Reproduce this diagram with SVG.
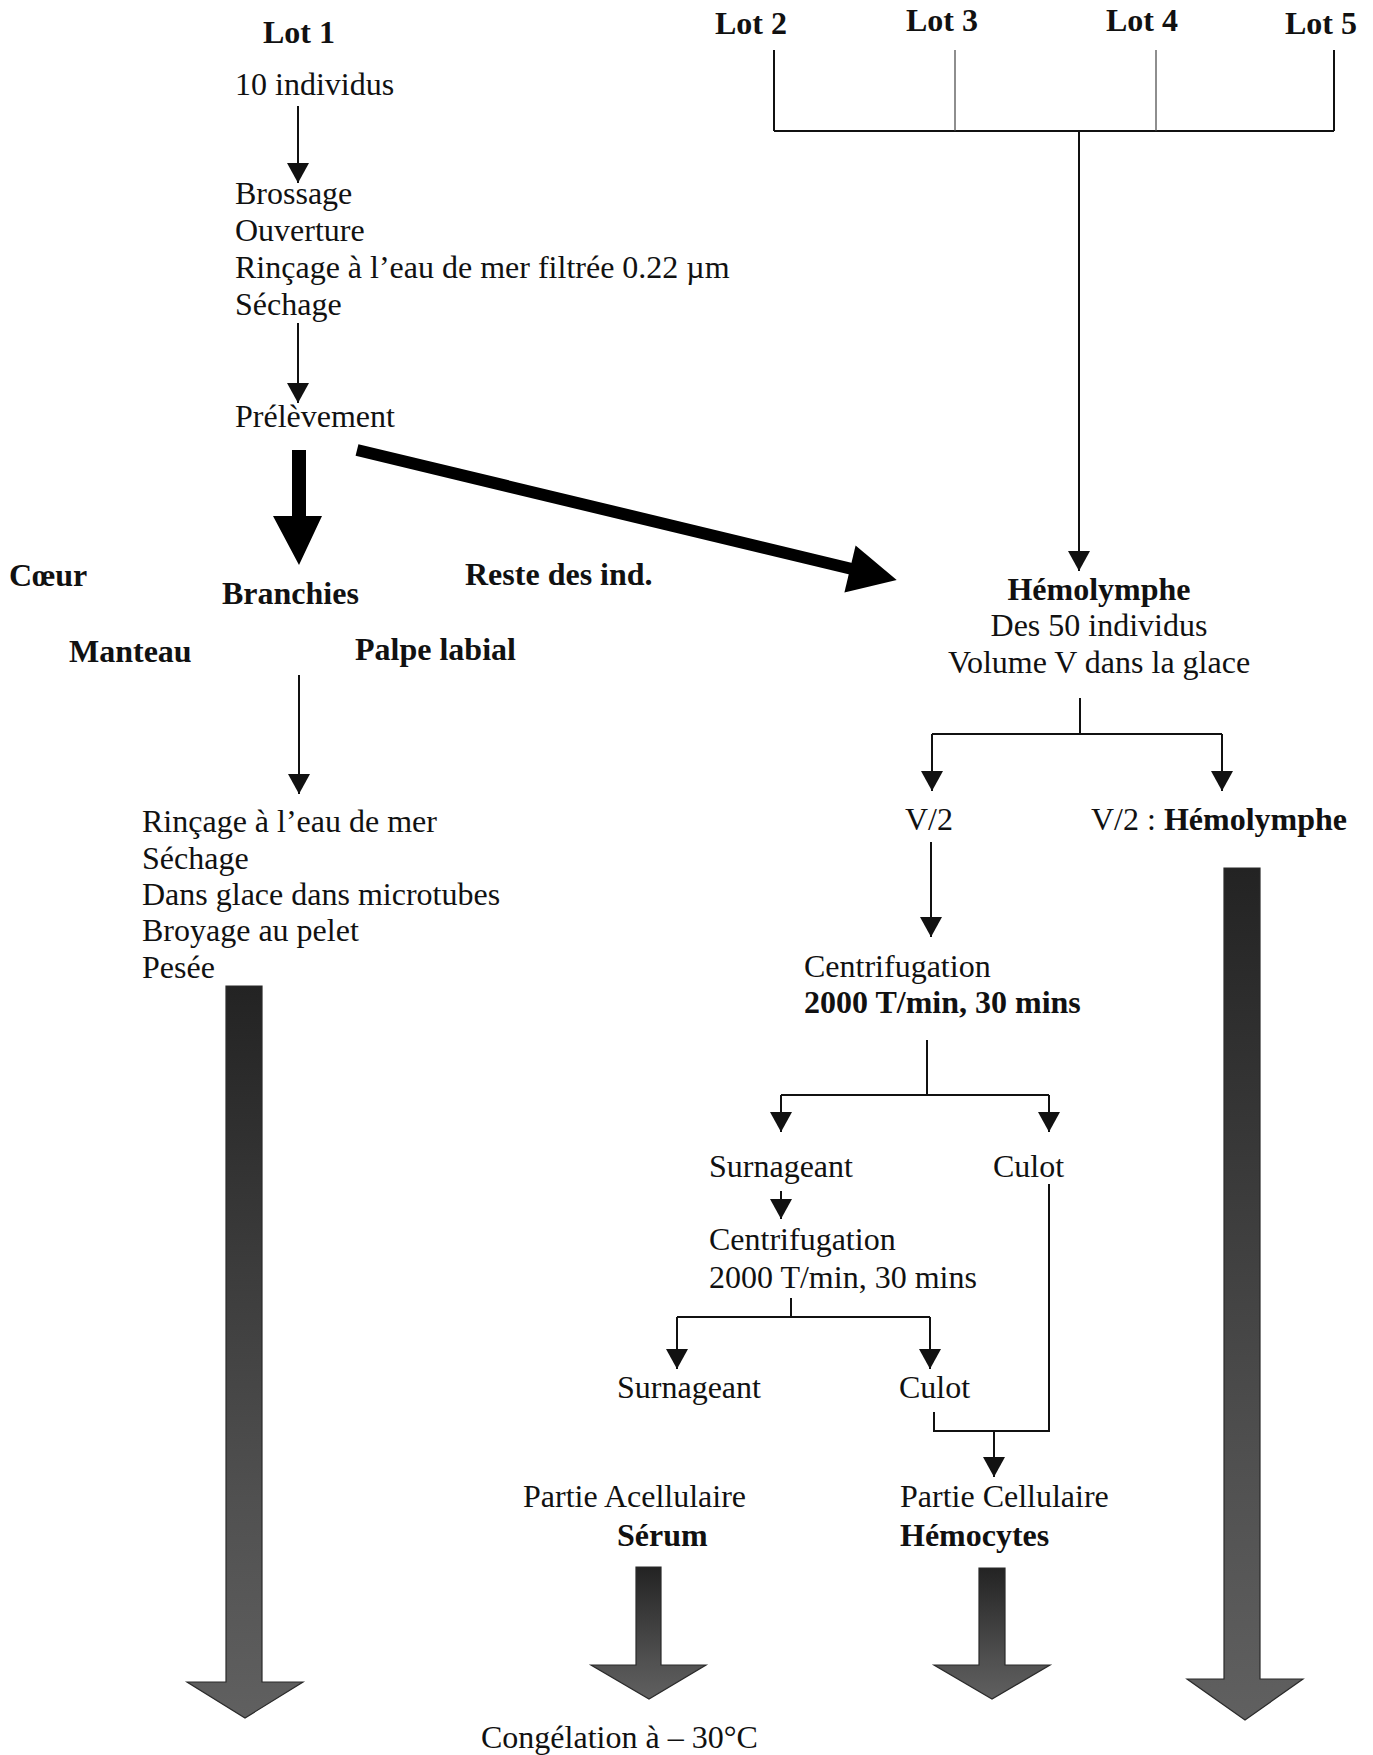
<svg xmlns="http://www.w3.org/2000/svg" width="1373" height="1755" viewBox="0 0 1373 1755">
<style>
text{font-family:"Liberation Serif","Times New Roman",serif;font-size:32px;fill:#111}
.b{font-weight:bold}
.m{text-anchor:middle}
.ln{stroke:#111;stroke-width:2;fill:none}
.thin{stroke:#444;stroke-width:1.2;fill:none}
.ar{marker-end:url(#ah)}
.gray{fill:url(#gg);stroke:#2a2a2a;stroke-width:1.2}
</style>
<defs>
<marker id="ah" markerUnits="userSpaceOnUse" markerWidth="22" markerHeight="22" refX="20" refY="11" orient="auto">
<path d="M0,0 L20,11 L0,22 Z" fill="#111"/>
</marker>
<linearGradient id="gg" x1="0" y1="0" x2="0" y2="1">
<stop offset="0" stop-color="#232323"/>
<stop offset="0.7" stop-color="#505050"/>
<stop offset="1" stop-color="#606060"/>
</linearGradient>
</defs>

<g id="lot1"><text class="b" x="263" y="43">Lot 1</text></g>
<g id="individus10"><text x="235" y="95">10 individus</text></g>
<g id="preparation">
<text x="235" y="204">Brossage</text>
<text x="235" y="241">Ouverture</text>
<text x="235" y="278">Rinçage à l’eau de mer filtrée 0.22 µm</text>
<text x="235" y="315">Séchage</text>
</g>
<g id="prelevement"><text x="235" y="427">Prélèvement</text></g>
<g id="lot2"><text class="b" x="715" y="34">Lot 2</text></g>
<g id="lot3"><text class="b" x="906" y="31">Lot 3</text></g>
<g id="lot4"><text class="b" x="1106" y="31">Lot 4</text></g>
<g id="lot5"><text class="b" x="1285" y="34">Lot 5</text></g>
<g id="coeur"><text class="b" x="9" y="586">Cœur</text></g>
<g id="branchies"><text class="b" x="222" y="604">Branchies</text></g>
<g id="reste"><text class="b" x="465" y="585">Reste des ind.</text></g>
<g id="manteau"><text class="b" x="69" y="662">Manteau</text></g>
<g id="palpe"><text class="b" x="355" y="660">Palpe labial</text></g>
<g id="hemolymphe">
<text class="b m" x="1099" y="600">Hémolymphe</text>
<text class="m" x="1099" y="636">Des 50 individus</text>
<text class="m" x="1099" y="673">Volume V dans la glace</text>
</g>
<g id="traitement">
<text x="142" y="832">Rinçage à l’eau de mer</text>
<text x="142" y="869">Séchage</text>
<text x="142" y="905">Dans glace dans microtubes</text>
<text x="142" y="941">Broyage au pelet</text>
<text x="142" y="978">Pesée</text>
</g>
<g id="v2a"><text x="905" y="830">V/2</text></g>
<g id="v2b"><text x="1091" y="830">V/2 : <tspan class="b">Hémolymphe</tspan></text></g>
<g id="centrif1">
<text x="804" y="977">Centrifugation</text>
<text class="b" x="804" y="1013">2000 T/min, 30 mins</text>
</g>
<g id="surnageant1"><text x="709" y="1177">Surnageant</text></g>
<g id="culot1"><text x="993" y="1177">Culot</text></g>
<g id="centrif2">
<text x="709" y="1250">Centrifugation</text>
<text x="709" y="1288">2000 T/min, 30 mins</text>
</g>
<g id="surnageant2"><text x="617" y="1398">Surnageant</text></g>
<g id="culot2"><text x="899" y="1398">Culot</text></g>
<g id="serum">
<text x="523" y="1507">Partie Acellulaire</text>
<text class="b" x="617" y="1546">Sérum</text>
</g>
<g id="hemocytes">
<text x="900" y="1507">Partie Cellulaire</text>
<text class="b" x="900" y="1546">Hémocytes</text>
</g>
<g id="congelation"><text x="481" y="1748">Congélation à – 30°C</text></g>

<g id="connectors">
<line class="ln ar" x1="298" y1="106" x2="298" y2="183"/>
<line class="ln ar" x1="298" y1="323" x2="298" y2="403"/>
<path class="ln" d="M774,50 V131 M1334,50 V131 M774,131 H1334"/>
<path class="thin" d="M955,50 V131 M1156,50 V131"/>
<line class="ln ar" x1="1079" y1="131" x2="1079" y2="571"/>
<polygon points="292,450 306,450 306,516 322,516 299,565 273,516 292,516" fill="#000"/>
<line x1="357" y1="450" x2="852" y2="569" stroke="#000" stroke-width="12"/>
<polygon points="855.6,545.6 896.7,580.1 844.4,592.4" fill="#000"/>
<line class="ln ar" x1="299" y1="675" x2="299" y2="794"/>
<path class="ln" d="M1080,698 V734 M932,734 H1222"/>
<line class="ln ar" x1="932" y1="734" x2="932" y2="791"/>
<line class="ln ar" x1="1222" y1="734" x2="1222" y2="791"/>
<line class="ln ar" x1="931" y1="842" x2="931" y2="937"/>
<path class="ln" d="M927,1040 V1095 M781,1095 H1049"/>
<line class="ln ar" x1="781" y1="1095" x2="781" y2="1132"/>
<line class="ln ar" x1="1049" y1="1095" x2="1049" y2="1132"/>
<line class="ln ar" x1="781" y1="1191" x2="781" y2="1219"/>
<path class="ln" d="M791,1298 V1317 M677,1317 H930"/>
<line class="ln ar" x1="677" y1="1317" x2="677" y2="1369"/>
<line class="ln ar" x1="930" y1="1317" x2="930" y2="1369"/>
<path class="ln" d="M1049,1184 V1431 H934 V1412"/>
<line class="ln ar" x1="994" y1="1431" x2="994" y2="1477"/>
<polygon class="gray" points="226,986 262,986 262,1682 303,1682 245,1718 187,1682 226,1682"/>
<polygon class="gray" points="1224,868 1260,868 1260,1679 1303,1679 1245,1720 1187,1679 1224,1679"/>
<polygon class="gray" points="636,1567 661,1567 661,1665 706,1665 649,1699 591,1665 636,1665"/>
<polygon class="gray" points="979,1568 1005,1568 1005,1665 1050,1665 992,1699 934,1665 979,1665"/>
</g>
</svg>
